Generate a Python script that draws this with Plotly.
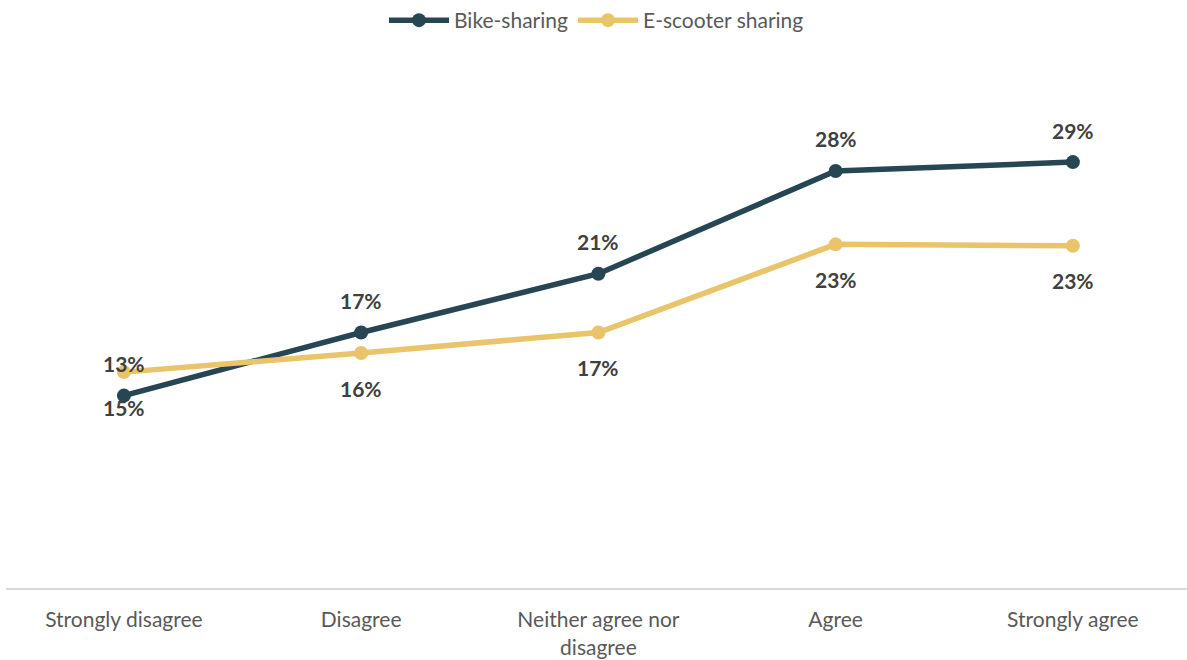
import plotly.graph_objects as go

categories = ["Strongly disagree", "Disagree", "Neither agree nor<br>disagree", "Agree", "Strongly agree"]
bike_sharing = [13.1, 17.4, 21.4, 28.4, 29.0]
escooter_sharing = [14.7, 16.0, 17.4, 23.4, 23.3]

BIKE_COLOR = "#264653"
SCOOTER_COLOR = "#E9C46A"
LABEL_COLOR = "#404040"
TICK_COLOR = "#595959"
FONT = "Lato, 'Open Sans', sans-serif"

fig = go.Figure()
fig.add_trace(go.Scatter(
    x=categories, y=bike_sharing, name="Bike-sharing", mode="lines+markers",
    line=dict(color=BIKE_COLOR, width=5.5), marker=dict(color=BIKE_COLOR, size=14),
))
fig.add_trace(go.Scatter(
    x=categories, y=escooter_sharing, name="E-scooter sharing", mode="lines+markers",
    line=dict(color=SCOOTER_COLOR, width=5.5), marker=dict(color=SCOOTER_COLOR, size=14),
))

# value labels: bike above its points, e-scooter below
for cat, v in zip(categories, bike_sharing):
    fig.add_annotation(x=cat, y=v, text=f"{v:.0f}%", showarrow=False, yshift=32,
                       font=dict(family=FONT, size=21, color=LABEL_COLOR, weight="bold"))
for cat, v in zip(categories, escooter_sharing):
    fig.add_annotation(x=cat, y=v, text=f"{v:.0f}%", showarrow=False, yshift=-35,
                       font=dict(family=FONT, size=21, color=LABEL_COLOR, weight="bold"))

fig.update_layout(
    width=1187, height=660,
    margin=dict(l=6, r=0, t=74, b=72),
    paper_bgcolor="white", plot_bgcolor="white",
    font=dict(family=FONT, size=21, color=TICK_COLOR),
    showlegend=True,
    legend=dict(orientation="h", x=0.5, xanchor="center", y=1.0, yref="container",
                yanchor="top", font=dict(size=21, color=TICK_COLOR), itemwidth=60),
    xaxis=dict(type="category", range=[-0.497, 4.481], showgrid=False, showline=True,
               linecolor="#D9D9D9", linewidth=2, ticks="", ticklabelstandoff=12,
               tickfont=dict(size=21, color=TICK_COLOR), zeroline=False),
    yaxis=dict(range=[0, 35], visible=False, showgrid=False, zeroline=False),
)

fig.write_html("out.html")
